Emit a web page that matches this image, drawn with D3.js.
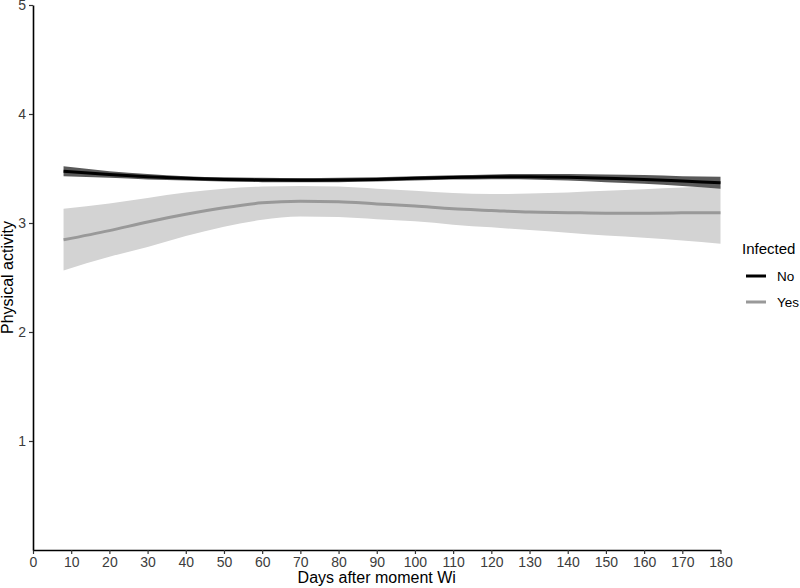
<!DOCTYPE html>
<html>
<head>
<meta charset="utf-8">
<script src="https://cdn.jsdelivr.net/npm/d3@7"></script>
<style>
  body { margin: 0; background: #fff; }
  text { font-family: "Liberation Sans", Arial, sans-serif; }
</style>
</head>
<body>
<script>
// values (smoothed fits with confidence bands)
const days = [8, 20, 30, 40, 50, 60, 70, 80, 90, 100, 110, 120, 130, 140, 150, 160, 170, 180];

const noFit   = [3.475, 3.445, 3.425, 3.41, 3.40, 3.395, 3.393, 3.395, 3.40, 3.41, 3.418, 3.424, 3.425, 3.42, 3.41, 3.40, 3.385, 3.37];
const noLower = [3.43, 3.415, 3.40, 3.39, 3.38, 3.375, 3.373, 3.375, 3.38, 3.39, 3.398, 3.402, 3.40, 3.39, 3.375, 3.36, 3.34, 3.315];
const noUpper = [3.52, 3.475, 3.45, 3.43, 3.42, 3.415, 3.413, 3.415, 3.42, 3.43, 3.438, 3.446, 3.45, 3.45, 3.445, 3.44, 3.43, 3.425];

const yesFit   = [2.846, 2.93, 3.01, 3.08, 3.14, 3.185, 3.20, 3.195, 3.175, 3.155, 3.13, 3.115, 3.10, 3.095, 3.09, 3.09, 3.093, 3.095];
const yesLower = [2.565, 2.69, 2.78, 2.88, 2.965, 3.03, 3.06, 3.055, 3.035, 3.015, 2.985, 2.96, 2.935, 2.91, 2.885, 2.865, 2.84, 2.81];
const yesUpper = [3.13, 3.18, 3.23, 3.28, 3.315, 3.335, 3.34, 3.335, 3.315, 3.295, 3.275, 3.265, 3.27, 3.28, 3.295, 3.31, 3.325, 3.345];

const xTicks = d3.range(0, 181, 10);
const yTicks = [1, 2, 3, 4, 5];
const groups = ["No", "Yes"];

let margin = {top: 5, left: 33, bottom: 38, right: 79.5};
let width = 800 - margin.left - margin.right;
let height = 588 - margin.top - margin.bottom;

let svg = d3.select("body").append("svg")
  .attr("width", 800)
  .attr("height", 588);

let g = svg.append("g")
  .attr("transform", `translate(${margin.left}, ${margin.top})`);

let x = d3.scaleLinear().domain([0, 180]).range([0, width]);
let y = d3.scaleLinear().domain([0, 5]).range([height, 0]);

function rows(fit, lo, hi) {
  return days.map((d, i) => ({day: d, fit: fit[i], lo: lo[i], hi: hi[i]}));
}

const series = [
  {name: "Yes", data: rows(yesFit, yesLower, yesUpper), line: "#999999", band: "#d3d3d3"},
  {name: "No", data: rows(noFit, noLower, noUpper), line: "#000000", band: "#5a5a5a"}
];

let area = d3.area()
  .x(d => x(d.day))
  .y0(d => y(d.lo))
  .y1(d => y(d.hi))
  .curve(d3.curveMonotoneX);

let line = d3.line()
  .x(d => x(d.day))
  .y(d => y(d.fit))
  .curve(d3.curveMonotoneX);

series.forEach(s => {
  g.append("path")
    .datum(s.data)
    .attr("d", area)
    .attr("fill", s.band);
  g.append("path")
    .datum(s.data)
    .attr("d", line)
    .attr("fill", "none")
    .attr("stroke", s.line)
    .attr("stroke-width", 3);
});

// axes
let xAxis = g.append("g")
  .attr("transform", `translate(0, ${height})`)
  .call(d3.axisBottom(x).tickValues(xTicks).tickSize(4).tickSizeOuter(0));

let yAxis = g.append("g")
  .call(d3.axisLeft(y).tickValues(yTicks).tickFormat(d3.format("d")).tickSize(4).tickSizeOuter(0));

[xAxis, yAxis].forEach(a => {
  a.select(".domain").attr("stroke", "#000").attr("stroke-width", 1.6);
  a.selectAll(".tick line").attr("stroke", "#333").attr("stroke-width", 1.2);
  a.selectAll(".tick text")
    .attr("fill", "#3c3c3c")
    .style("font-size", "14px")
    .style("font-family", "'Liberation Sans', Arial, sans-serif");
});

// axis titles
svg.append("text")
  .attr("x", margin.left + width / 2)
  .attr("y", 583)
  .attr("text-anchor", "middle")
  .style("font-size", "16px")
  .text("Days after moment Wi");

svg.append("text")
  .attr("transform", `translate(13, ${margin.top + height / 2}) rotate(-90)`)
  .attr("text-anchor", "middle")
  .style("font-size", "16px")
  .text("Physical activity");

// legend
let legend = svg.append("g").attr("transform", "translate(742, 254)");
legend.append("text")
  .attr("x", 0)
  .attr("y", 0)
  .style("font-size", "15px")
  .text("Infected");

let key = legend.selectAll(".key")
  .data(groups)
  .enter()
  .append("g")
  .attr("transform", (d, i) => `translate(0, ${22 + i * 26})`);

key.append("line")
  .attr("x1", 4).attr("x2", 24)
  .attr("stroke", d => d === "No" ? "#000" : "#999")
  .attr("stroke-width", 3);

key.append("text")
  .attr("x", 35)
  .attr("dy", "0.35em")
  .style("font-size", "13.5px")
  .text(d => d);
</script>
</body>
</html>
